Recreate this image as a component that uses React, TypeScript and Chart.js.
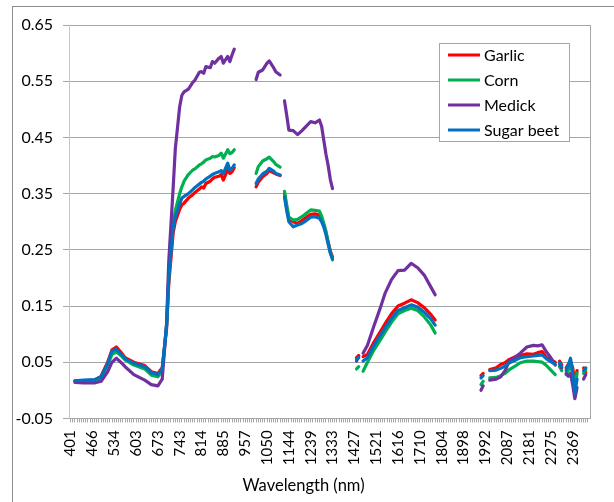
import React, { useEffect, useRef } from "react";
import { Chart, registerables } from "chart.js";

Chart.register(...registerables);

// Wavelength labels shown every 10 bands on the category-like axis
const tickLabels = [
  "401", "466", "534", "603", "673", "743", "814", "885", "957", "1050", "1144", "1239",
  "1333", "1427", "1521", "1616", "1710", "1804", "1898", "1992", "2087", "2181", "2275", "2369",
];
const yTickValues = [-0.05, 0.05, 0.15, 0.25, 0.35, 0.45, 0.55, 0.65];
const bandCount = 238;

// Band index along the wavelength axis (10 bands per labelled tick); null values = removed bands
const bands = [
  2, 6, 11, 14, 17, 19, 21, 23, 25, 29, 34, 37, 40, 42, 44, 45, 47, 48, 50, 51, 52, 54, 56, 57, 59, 60,
  61, 62, 64, 65, 66, 68, 69, 70, 72, 73, 74, 75,
  80,
  85, 86, 88, 90, 91, 93, 94, 96,
  97,
  98, 99, 100, 102, 104, 106, 108, 110, 112, 114, 115, 116, 117, 118, 119, 120,
  125,
  131, 132,
  133,
  134, 136, 139, 142, 144, 147, 150, 153, 156, 159, 162, 165, 167,
  178,
  188, 189,
  190,
  192, 195, 197, 199, 201, 204, 206, 209, 212, 214, 216, 218, 220, 222,
  223,
  224, 225,
  226,
  227, 228, 229, 230, 231, 232,
  233,
  235, 236,
];

const garlic = [
  0.017, 0.017, 0.018, 0.025, 0.05, 0.072, 0.077, 0.068, 0.058, 0.05, 0.044, 0.033, 0.03, 0.04, 0.11, 0.19,
  0.28, 0.3, 0.322, 0.33, 0.333, 0.342, 0.348, 0.352, 0.358, 0.362, 0.36, 0.368, 0.372, 0.376, 0.379, 0.381,
  0.384, 0.374, 0.393, 0.386, 0.389, 0.396,
  null,
  0.362, 0.37, 0.38, 0.386, 0.391, 0.387, 0.385, 0.382,
  null,
  0.35, 0.325, 0.305, 0.3, 0.297, 0.302, 0.308, 0.313, 0.314, 0.312, 0.305, 0.294, 0.28, 0.264, 0.248, 0.237,
  null,
  0.058, 0.062,
  null,
  0.06, 0.064, 0.086, 0.105, 0.118, 0.136, 0.15, 0.155, 0.161, 0.156, 0.147, 0.135, 0.125,
  null,
  0.026, 0.03,
  null,
  0.037, 0.04, 0.046, 0.049, 0.055, 0.06, 0.062, 0.065, 0.064, 0.067, 0.069, 0.058, 0.054, 0.05,
  null,
  0.052, 0.045,
  null,
  0.04, 0.046, 0.052, 0.04, 0.015, 0.035,
  null,
  0.04, 0.032,
];

const corn = [
  0.016, 0.016, 0.016, 0.022, 0.045, 0.064, 0.068, 0.062, 0.054, 0.045, 0.038, 0.027, 0.024, 0.035, 0.115, 0.2,
  0.3, 0.32, 0.35, 0.362, 0.372, 0.384, 0.392, 0.394, 0.401, 0.403, 0.406, 0.41, 0.413, 0.416, 0.415, 0.418,
  0.422, 0.413, 0.428, 0.421, 0.423, 0.428,
  null,
  0.386, 0.398, 0.408, 0.412, 0.415, 0.407, 0.402, 0.397,
  null,
  0.354, 0.33, 0.308, 0.303, 0.304, 0.309, 0.315, 0.321, 0.32, 0.319, 0.31, 0.297, 0.283, 0.263, 0.245, 0.232,
  null,
  0.038, 0.042,
  null,
  0.034, 0.05, 0.072, 0.09, 0.103, 0.121, 0.136, 0.142, 0.146, 0.142, 0.131, 0.116, 0.102,
  null,
  0.01, 0.016,
  null,
  0.022, 0.023, 0.026, 0.03, 0.037, 0.044, 0.049, 0.052, 0.052, 0.051, 0.05, 0.044, 0.036, 0.028,
  null,
  0.042, 0.035,
  null,
  0.028, 0.035, 0.048, 0.03, 0.005, 0.03,
  null,
  0.03, 0.038,
];

const medick = [
  0.014, 0.013, 0.013, 0.016, 0.033, 0.05, 0.057, 0.05, 0.042, 0.028, 0.018, 0.01, 0.008, 0.02, 0.12, 0.23,
  0.36, 0.43, 0.505, 0.525, 0.531, 0.536, 0.548, 0.552, 0.566, 0.567, 0.564, 0.576, 0.574, 0.585, 0.582, 0.591,
  0.594, 0.582, 0.594, 0.585, 0.597, 0.607,
  null,
  0.553, 0.566, 0.57, 0.582, 0.586, 0.574, 0.567, 0.561,
  null,
  0.515, 0.49, 0.463, 0.462, 0.455, 0.462, 0.47, 0.478, 0.476, 0.481, 0.47, 0.445, 0.42, 0.4, 0.375, 0.359,
  null,
  0.052, 0.06,
  null,
  0.066, 0.08, 0.115, 0.148, 0.172, 0.197, 0.213, 0.214, 0.226, 0.218, 0.205, 0.184, 0.17,
  null,
  0.0, 0.008,
  null,
  0.018, 0.02, 0.024, 0.035, 0.052, 0.06, 0.066, 0.077, 0.08, 0.079, 0.081, 0.068, 0.058, 0.045,
  null,
  0.046, 0.04,
  null,
  0.03, 0.025, 0.03, 0.01, -0.015, 0.005,
  null,
  0.02, 0.028,
];

const sugarBeet = [
  0.017, 0.018, 0.019, 0.024, 0.048, 0.07, 0.073, 0.065, 0.056, 0.048, 0.042, 0.031, 0.028, 0.038, 0.115, 0.2,
  0.29, 0.308, 0.332, 0.342, 0.345, 0.35, 0.357, 0.361, 0.367, 0.37, 0.372, 0.376, 0.381, 0.384, 0.386, 0.389,
  0.391, 0.386, 0.404, 0.391, 0.395, 0.401,
  null,
  0.368, 0.376, 0.385, 0.39, 0.395, 0.39, 0.386, 0.383,
  null,
  0.344, 0.32, 0.3, 0.291, 0.294, 0.297, 0.302, 0.308, 0.309, 0.306, 0.3, 0.291, 0.277, 0.26, 0.244, 0.234,
  null,
  0.055, 0.058,
  null,
  0.052, 0.058, 0.08, 0.098, 0.11, 0.128, 0.142, 0.147, 0.152, 0.148, 0.139, 0.127, 0.116,
  null,
  0.022, 0.026,
  null,
  0.035, 0.036, 0.039, 0.043, 0.049, 0.054, 0.058, 0.06, 0.061, 0.062, 0.063, 0.056, 0.051, 0.046,
  null,
  0.049, 0.042,
  null,
  0.035, 0.045, 0.057, 0.03, -0.005, 0.02,
  null,
  0.035, 0.04,
];

const seriesNames = ["Garlic", "Corn", "Medick", "Sugar beet"];
const seriesColors = ["#FF0000", "#00B050", "#7030A0", "#0070C0"];
const seriesValues = [garlic, corn, medick, sugarBeet];

const FONT = "Lato, 'Open Sans', sans-serif";
const GRID = "#a6a6a6";

const boxLegend = {
  id: "boxLegend",
  afterDatasetsDraw(chart: any) {
    const { ctx, chartArea } = chart;
    const w = 130;
    const h = 98;
    const x0 = Math.round(chartArea.right - 151);
    const y0 = Math.round(chartArea.top + 18);
    ctx.save();
    ctx.fillStyle = "#ffffff";
    ctx.fillRect(x0, y0, w, h);
    ctx.strokeStyle = GRID;
    ctx.lineWidth = 1;
    ctx.strokeRect(x0 + 0.5, y0 + 0.5, w, h);
    ctx.font = `16px ${FONT}`;
    ctx.textBaseline = "middle";
    chart.data.datasets.forEach((ds: any, i: number) => {
      const cy = y0 + 12 + i * 25;
      ctx.strokeStyle = ds.borderColor;
      ctx.lineWidth = 3;
      ctx.beginPath();
      ctx.moveTo(x0 + 9, cy);
      ctx.lineTo(x0 + 41, cy);
      ctx.stroke();
      ctx.fillStyle = "#000000";
      ctx.fillText(ds.label, x0 + 45, cy + 1);
    });
    ctx.restore();
  },
};

const plotRightBorder = {
  id: "plotRightBorder",
  afterDraw(chart: any) {
    const { ctx, chartArea } = chart;
    ctx.save();
    ctx.strokeStyle = GRID;
    ctx.lineWidth = 1;
    ctx.beginPath();
    ctx.moveTo(Math.round(chartArea.right) + 0.5, chartArea.top);
    ctx.lineTo(Math.round(chartArea.right) + 0.5, chartArea.bottom);
    ctx.stroke();
    ctx.restore();
  },
};

export default function App() {
  const canvasRef = useRef<HTMLCanvasElement | null>(null);

  useEffect(() => {
    const canvas = canvasRef.current;
    if (!canvas) return;
    const minorTicks = Array.from({ length: bandCount }, (_, i) => ({ value: i }));
    const chart = new Chart(canvas, {
      type: "line",
      data: {
        datasets: seriesNames.map((name, si) => ({
          label: name,
          data: bands.map((b, i) => ({ x: b, y: seriesValues[si][i] })),
          borderColor: seriesColors[si],
          backgroundColor: seriesColors[si],
          borderWidth: 3.2,
          pointRadius: 0,
          tension: 0,
          spanGaps: false,
          borderJoinStyle: "round",
          borderCapStyle: "round",
          order: seriesNames.length - si,
        })),
      },
      options: {
        responsive: false,
        animation: false,
        devicePixelRatio: 1,
        layout: { padding: { left: 0, right: 7, top: 25, bottom: 6 } },
        plugins: {
          legend: { display: false },
          tooltip: { enabled: false },
          title: {
            display: true,
            text: "Wavelength (nm)",
            position: "bottom",
            color: "#000000",
            font: { family: FONT, size: 16.5, weight: "normal", lineHeight: 1.2 },
            padding: { top: 0, bottom: 0 },
          },
        },
        scales: {
          x: {
            type: "linear",
            min: -0.7,
            max: bandCount,
            afterBuildTicks: (scale: any) => {
              scale.ticks = minorTicks.map((t) => ({ ...t }));
            },
            afterFit: (scale: any) => {
              scale.height = 57.8;
            },
            ticks: {
              autoSkip: false,
              minRotation: 90,
              maxRotation: 90,
              padding: 8,
              color: "#000000",
              font: { family: FONT, size: 15 },
              callback: (v: any) => {
                const n = Number(v);
                return n % 10 === 0 && tickLabels[n / 10] !== undefined ? tickLabels[n / 10] : "";
              },
            },
            grid: { drawOnChartArea: false, tickLength: 4, color: GRID },
            border: { color: GRID },
          },
          y: {
            min: -0.05,
            max: 0.65,
            afterBuildTicks: (scale: any) => {
              scale.ticks = yTickValues.map((v) => ({ value: v }));
            },
            afterFit: (scale: any) => {
              scale.width = 69;
            },
            ticks: {
              padding: 10,
              color: "#000000",
              font: { family: FONT, size: 16 },
              callback: (v: any) => Number(v).toFixed(2),
            },
            grid: { color: GRID, tickLength: 6 },
            border: { color: "#c8c8c8" },
          },
        },
      },
      plugins: [boxLegend, plotRightBorder],
    } as any);
    if ((document as any).fonts && (document as any).fonts.load) {
      (document as any).fonts.load(`16px Lato`).then(() => chart.update()).catch(() => {});
    }
    return () => chart.destroy();
  }, []);

  return (
    <div style={{ position: "fixed", left: 0, top: 0, width: 614, height: 502, background: "#ffffff" }}>
      <div
        style={{
          position: "absolute",
          left: 12,
          top: 6,
          width: 620,
          height: 520,
          border: "1px solid #8c8c8c",
          boxSizing: "border-box",
        }}
      />
      <canvas ref={canvasRef} width={614} height={502} style={{ position: "absolute", left: 0, top: 0 }} />
    </div>
  );
}
